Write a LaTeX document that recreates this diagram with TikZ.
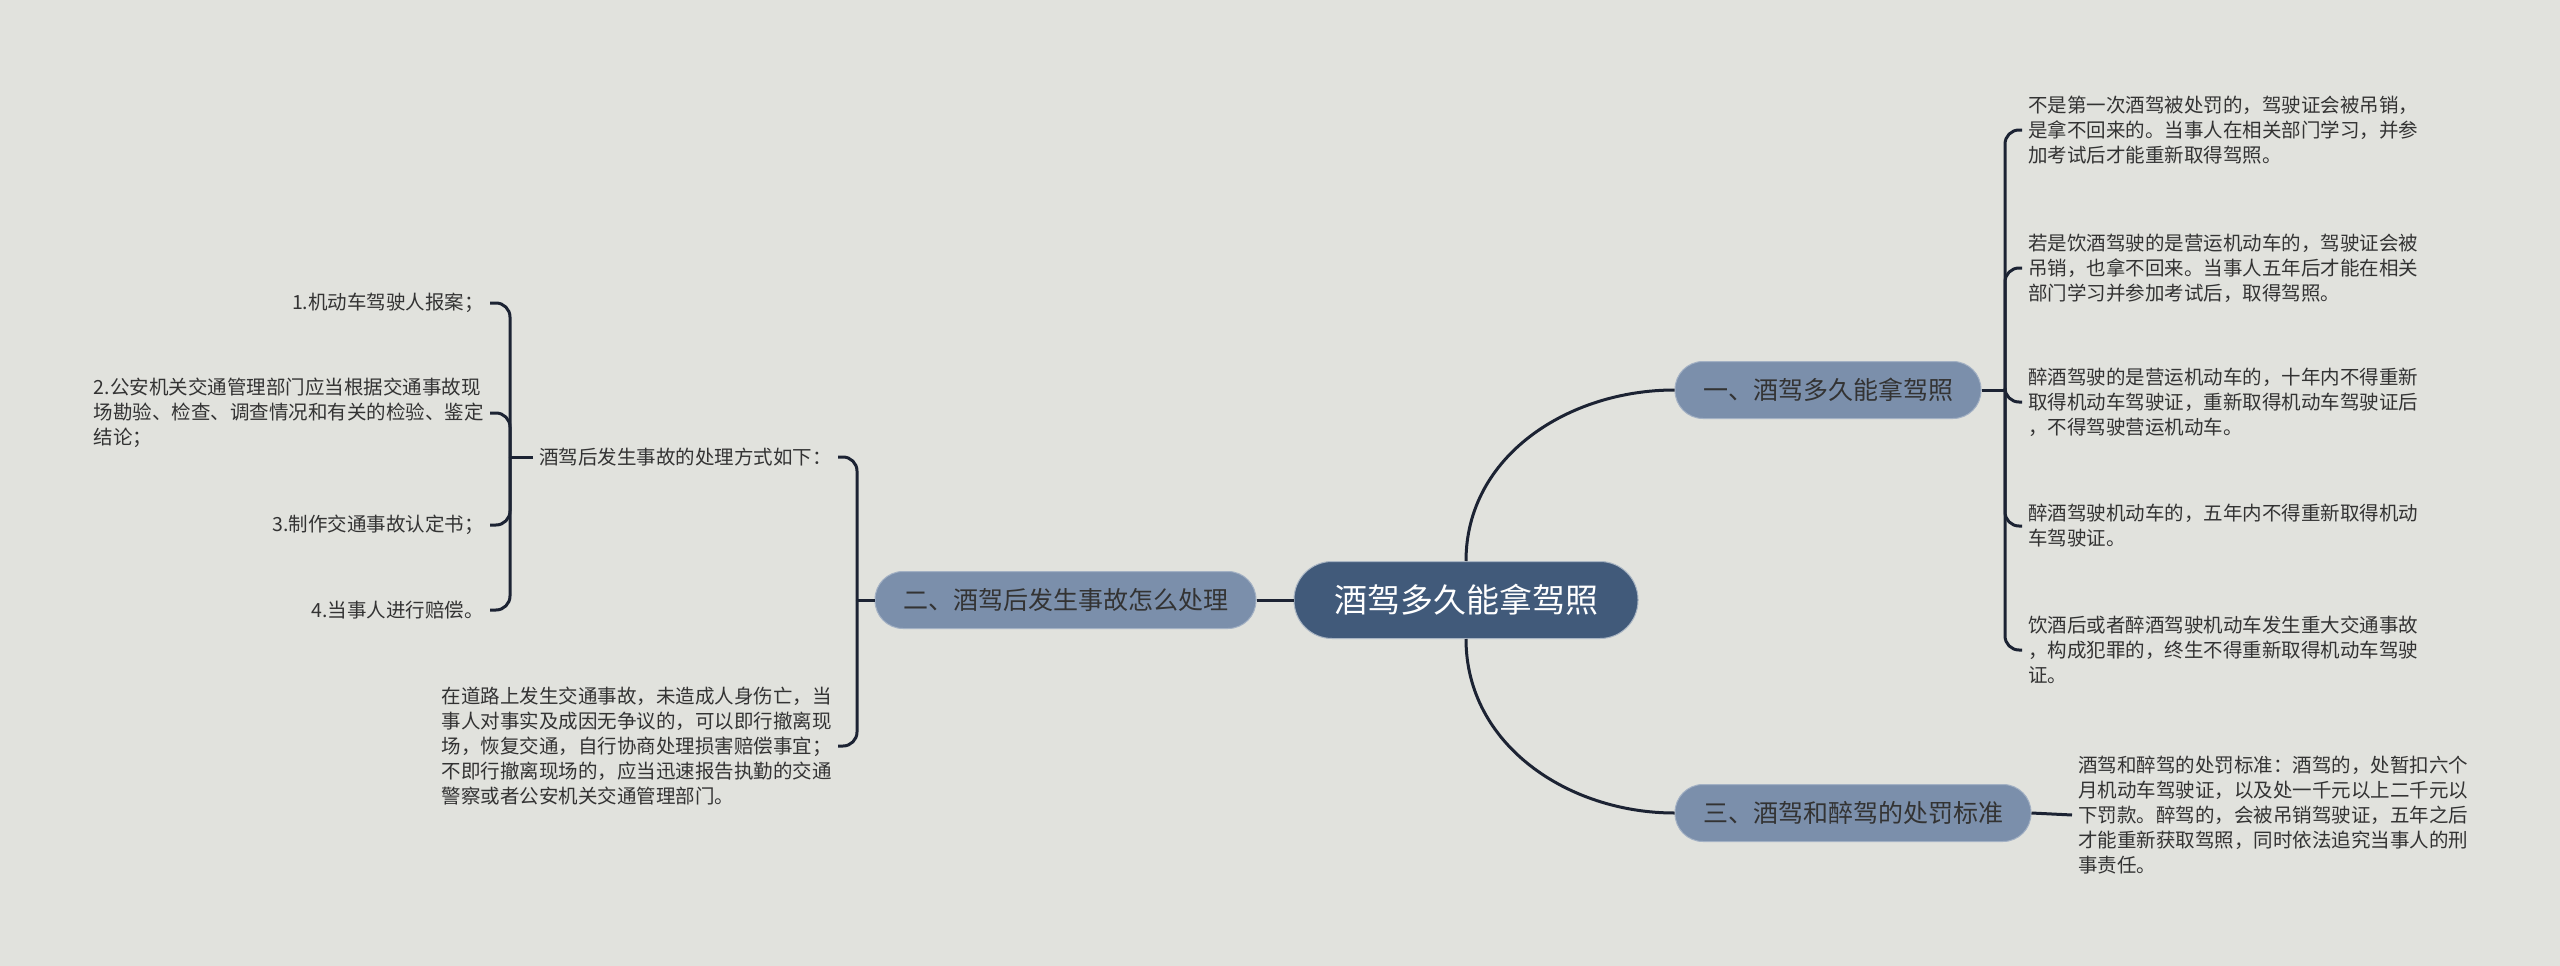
\documentclass[tikz,border=0pt]{standalone}
\usepackage{fontspec}
\setmainfont{Noto Sans CJK SC}
\usepackage{xcolor}
\usetikzlibrary{positioning}

\definecolor{bgc}{HTML}{E1E2DD}
\definecolor{rootc}{HTML}{415A7A}
\definecolor{subc}{HTML}{7B8FAB}
\definecolor{linec}{HTML}{1C2333}
\definecolor{txtc}{HTML}{333333}

\begin{document}
\begin{tikzpicture}[
  x=1pt, y=-1pt,
  root/.style={draw=white!55!rootc, line width=1pt, fill=rootc, text=white, rounded corners=38pt,
    minimum height=77pt, inner xsep=40pt, font=\fontsize{33}{40}\selectfont},
  topic/.style={draw=white!30!subc, line width=1pt, fill=subc, text=txtc, rounded corners=28pt,
    minimum height=57pt, inner xsep=28pt, font=\fontsize{25}{30}\selectfont},
  leaf/.style={align=left, text=txtc, inner xsep=6pt, inner ysep=2pt, font=\fontsize{19.5}{25}\selectfont},
  link/.style={draw=linec, line width=3pt},
  brace/.style={link, rounded corners=14pt}
]
\fill[bgc] (0,0) rectangle (2560,966);
\useasboundingbox (0,0) rectangle (2560,966);

% centre and main topics
\node[root] (root) at (1466,600) {酒驾多久能拿驾照};
\node[topic] (b1) at (1828,390) {一、酒驾多久能拿驾照};
\node[topic, left=37pt of root] (b2) {二、酒驾后发生事故怎么处理};
\node[topic] (b3) at (1853,813) {三、酒驾和醉驾的处罚标准};

\draw[link] (root.north) to[out=90, in=180] (b1.west);
\draw[link] (root.south) to[out=-90, in=180] (b3.west);
\draw[link] (b2.east) -- (root.west);

% topic 1
\node[leaf, anchor=west] (r1) at (2022,130) {不是第一次酒驾被处罚的，驾驶证会被吊销，\\是拿不回来的。当事人在相关部门学习，并参\\加考试后才能重新取得驾照。};
\node[leaf, anchor=west] (r2) at (2022,268) {若是饮酒驾驶的是营运机动车的，驾驶证会被\\吊销，也拿不回来。当事人五年后才能在相关\\部门学习并参加考试后，取得驾照。};
\node[leaf, anchor=west] (r3) at (2022,402) {醉酒驾驶的是营运机动车的，十年内不得重新\\取得机动车驾驶证，重新取得机动车驾驶证后\\，不得驾驶营运机动车。};
\node[leaf, anchor=west] (r4) at (2022,526) {醉酒驾驶机动车的，五年内不得重新取得机动\\车驾驶证。};
\node[leaf, anchor=west] (r5) at (2022,650) {饮酒后或者醉酒驾驶机动车发生重大交通事故\\，构成犯罪的，终生不得重新取得机动车驾驶\\证。};
\coordinate (j1) at (2005,390);
\draw[link] (b1.east) -- (j1);
\foreach \n in {r1,r2,r3,r4,r5}
  \draw[brace] (j1) |- (\n.west);

% topic 3
\node[leaf, anchor=west] (p1) at (2072,815) {酒驾和醉驾的处罚标准：酒驾的，处暂扣六个\\月机动车驾驶证，以及处一千元以上二千元以\\下罚款。醉驾的，会被吊销驾驶证，五年之后\\才能重新获取驾照，同时依法追究当事人的刑\\事责任。};
\draw[link] (b3.east) -- (p1.west);

% topic 2
\node[leaf, anchor=east] (l0) at (838,457) {酒驾后发生事故的处理方式如下：};
\node[leaf, anchor=east] (l5) at (838,746) {在道路上发生交通事故，未造成人身伤亡，当\\事人对事实及成因无争议的，可以即行撤离现\\场，恢复交通，自行协商处理损害赔偿事宜；\\不即行撤离现场的，应当迅速报告执勤的交通\\警察或者公安机关交通管理部门。};
\coordinate (j2) at (857,600);
\draw[link] (b2.west) -- (j2);
\draw[brace] (j2) |- (l0.east);
\draw[brace] (j2) |- (l5.east);

\node[leaf, anchor=east] (s1) at (490,303) {1.机动车驾驶人报案；};
\node[leaf, anchor=east] (s2) at (490,413) {2.公安机关交通管理部门应当根据交通事故现\\场勘验、检查、调查情况和有关的检验、鉴定\\结论；};
\node[leaf, anchor=east] (s3) at (490,525) {3.制作交通事故认定书；};
\node[leaf, anchor=east] (s4) at (490,610) {4.当事人进行赔偿。};
\coordinate (j3) at (510,457);
\draw[link] (l0.west) -- (j3);
\foreach \n in {s1,s2,s3,s4}
  \draw[brace] (j3) |- (\n.east);
\end{tikzpicture}
\end{document}
